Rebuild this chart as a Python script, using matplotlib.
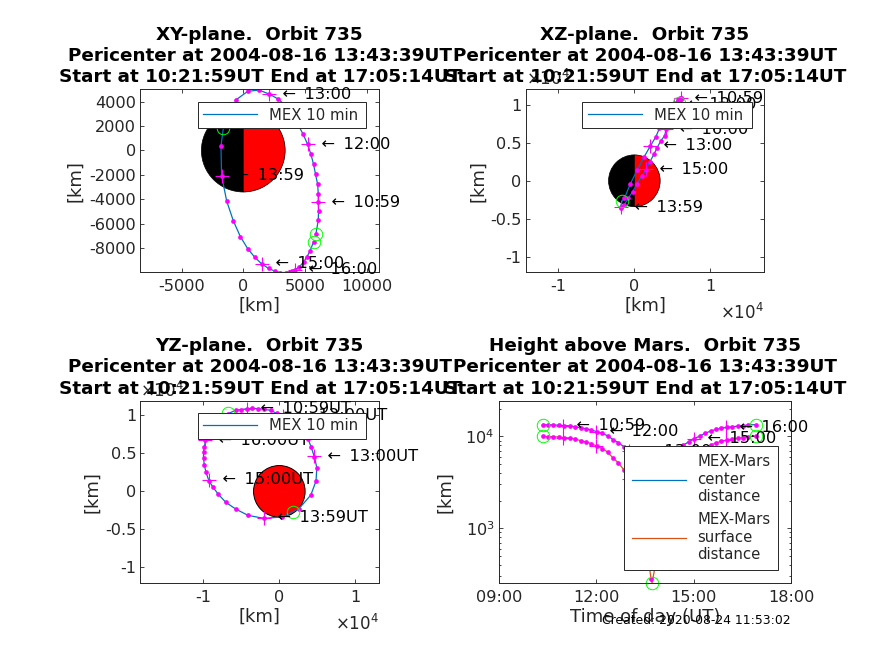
import matplotlib
matplotlib.use("Agg")
import matplotlib.pyplot as plt
import matplotlib.dates as mdates
import numpy as np
import pandas as pd
from matplotlib.patches import Circle, Wedge

plt.rcParams["axes.unicode_minus"] = False

# 10 minute positions along the orbit [km]
dot_times = ["10:21", "10:31", "10:41", "10:51", "11:01", "11:11", "11:21", "11:31", "11:41", "11:51",
             "12:01", "12:11", "12:21", "12:31", "12:41", "12:51", "13:01", "13:11", "13:21", "13:31",
             "13:41", "13:51", "14:01", "14:11", "14:21", "14:31", "14:41", "14:51", "15:01", "15:11",
             "15:21", "15:31", "15:41", "15:51", "16:01", "16:11", "16:21", "16:31", "16:41", "16:54"]
x_km = [5890, 6080, 6100, 6080, 6080, 6030, 5860, 5700, 5490, 5220,
        4860, 4500, 4100, 3700, 3300, 2840, 2100, 1270, 350, -570,
        -1300, -1810, -1760, -1350, -810, -240, 350, 945, 1490, 2050,
        2560, 3000, 3460, 3970, 4190, 4540, 4890, 5160, 5400, 5700]
y_km = [-6820, -5700, -4990, -4250, -3545, -2780, -1960, -1145, -330, 490,
        1310, 2000, 2650, 3250, 3780, 4200, 4610, 4940, 4830, 4150,
        2590, 350, -2050, -4120, -5750, -7040, -8020, -8750, -9270, -9650,
        -9870, -9980, -9980, -9850, -9740, -9530, -9110, -8700, -8240, -7470]
z_km = [10200, 10680, 10770, 10870, 10920, 10880, 10790, 10660, 10260, 9900,
        9500, 9000, 8400, 7700, 6900, 5790, 4560, 3110, 1360, -480,
        -2280, -3380, -3550, -3160, -2320, -1450, -395, 570, 1400, 2500,
        3460, 4340, 5220, 5880, 6750, 7450, 8000, 8550, 9100, 9500]
center_km = [13400, 13300, 13300, 13200, 13100, 13000, 12700, 12400, 12100, 11700,
             11250, 10750, 10150, 9200, 8530, 7720, 6850, 5950, 5000, 4200,
             3680, 3850, 4400, 5360, 6250, 7190, 8030, 8750, 9430, 10080,
             10780, 11400, 11900, 12200, 12500, 12700, 12900, 13100, 13300, 13400]

# hour marks
hour_labels = ["10:59", "12:00", "13:00", "13:59", "15:00", "16:00"]
hour_x = [6080, 5220, 2100, -1760, 1490, 4190]
hour_y = [-4250, 490, 4610, -2050, -9270, -9740]
hour_z = [10850, 9980, 4600, -3500, 1500, 6750]
hour_center = [13100, 11250, 6850, 4400, 9430, 12500]

# start, pericenter, end
ring_times = ["10:21", "13:43", "16:54"]
ring_x = [5890, -1620, 5700]
ring_y = [-6820, 1800, -7470]
ring_z = [10260, -2680, 9400]
ring_center = [13400, 3650, 13400]

mars_radius = 3396
orbit = 735
line2 = "Pericenter at 2004-08-16 13:43:39UT"
line3 = "Start at 10:21:59UT End at 17:05:14UT"
arrow = "  \u2009\u2190\u2009 "

BLUE = (0, 0.447, 0.741)
ORANGE = (0.85, 0.325, 0.098)
GREY = (0.15, 0.15, 0.15)
LABEL_SIZE = 11.7
TICK_SIZE = 11.6
AXIS_LABEL_SIZE = 13


def stamp(t):
    return pd.to_datetime(["2004-08-16 " + s for s in t])


def style_axes(ax):
    ax.tick_params(which="both", direction="in", top=True, right=True, length=2.6, width=0.6,
                   colors=GREY, labelsize=TICK_SIZE)
    ax.tick_params(axis="x", which="both", pad=5)
    ax.tick_params(axis="y", which="both", pad=3)
    ax.tick_params(which="minor", length=1.5)
    for spine in ax.spines.values():
        spine.set_linewidth(0.7)
        spine.set_color(GREY)


def add_title(ax, name):
    ax.set_title(f"{name}  Orbit {orbit}\n{line2}\n{line3}", fontsize=13.2, fontweight="bold",
                 pad=5, linespacing=1.24)


def add_legend(ax, box, borderpad=0.38, **kw):
    leg = ax.legend(loc="lower left", bbox_to_anchor=box, mode="expand", borderaxespad=0,
                    fancybox=False, framealpha=1, edgecolor=GREY, fontsize=10.7, handlelength=3.6,
                    borderpad=borderpad, **kw)
    leg.get_frame().set_linewidth(0.7)
    for text in leg.get_texts():
        text.set_color(GREY)
        text.set_linespacing(1.2)
    leg.set_zorder(6)
    return leg


def plot_plane(ax, xs, ys, hx, hy, rx, ry, suffix, half_mars):
    if half_mars:
        ax.add_patch(Wedge((0, 0), mars_radius, 90, 270, fc="black", ec="black", lw=0.5, zorder=1))
        ax.add_patch(Wedge((0, 0), mars_radius, -90, 90, fc="red", ec="black", lw=0.5, zorder=1))
    else:
        ax.add_patch(Circle((0, 0), mars_radius, fc="red", ec="black", lw=0.7, zorder=1))
    # line runs through the pericenter as well
    lx = np.insert(np.array(xs, dtype=float), 21, rx[1])
    ly = np.insert(np.array(ys, dtype=float), 21, ry[1])
    ax.plot(lx, ly, color=BLUE, lw=0.9, label="MEX 10 min", zorder=2)
    ax.plot(xs, ys, ls="none", marker="o", ms=3.4, mfc=(1, 0, 1), mew=0, zorder=2.2)
    ax.plot(hx, hy, ls="none", marker="+", ms=9.6, mew=0.8, color=(1, 0, 1), zorder=2.3)
    ax.plot(rx, ry, ls="none", marker="o", ms=9, mfc="none", mec=(0, 1, 0), mew=0.7, zorder=2.4)
    for hour, px, py in zip(hour_labels, hx, hy):
        ax.text(px, py, arrow + hour + suffix, fontsize=LABEL_SIZE, va="center", clip_on=False, zorder=3)


def km_ticks(ax, xlim, ylim, xticks, yticks, scaled, ypad):
    ax.set_xlim(xlim)
    ax.set_ylim(ylim)
    ax.set_xticks(xticks)
    ax.set_yticks(yticks)
    if scaled:
        ax.set_xticklabels([f"{v / 1e4:g}" for v in xticks])
        ax.set_yticklabels([f"{v / 1e4:g}" for v in yticks])
        ax.text(0.0, 1.0, r"$\times 10^4$", transform=ax.transAxes, fontsize=12, color=GREY, va="bottom")
        ax.text(1.0, -0.165, r"$\times 10^4$", transform=ax.transAxes, fontsize=12, color=GREY, va="top", ha="right")
    ax.set_xlabel("[km]", fontsize=AXIS_LABEL_SIZE, color=GREY, labelpad=2)
    ax.set_ylabel("[km]", fontsize=AXIS_LABEL_SIZE, color=GREY, labelpad=ypad)


W, H = 874, 655
fig = plt.figure(figsize=(W / 100, H / 100), dpi=100)


def make_axes(left, right, top, bottom):
    return fig.add_axes([left / W, 1 - bottom / H, (right - left) / W, (bottom - top) / H])


ax1 = make_axes(140.3, 379.3, 89.3, 272.3)
ax2 = make_axes(525.7, 764.3, 89.3, 272.3)
ax3 = make_axes(140.3, 379.3, 400.7, 583.3)
ax4 = make_axes(498.7, 791.3, 400.7, 583.3)

plot_plane(ax1, x_km, y_km, hour_x, hour_y, ring_x, ring_y, "", True)
km_ticks(ax1, (-8350, 11027), (-9963, 5000), [-5000, 0, 5000, 10000],
         [-8000, -6000, -4000, -2000, 0, 2000, 4000], False, 3.6)
add_title(ax1, "XY-plane.")
add_legend(ax1, (0.24, 0.787, 0.704, 0.14))

plot_plane(ax2, x_km, z_km, hour_x, hour_z, ring_x, ring_z, "", True)
km_ticks(ax2, (-14300, 17100), (-12000, 12000), [-10000, 0, 10000],
         [-10000, -5000, 0, 5000, 10000], True, 2)
add_title(ax2, "XZ-plane.")
add_legend(ax2, (0.238, 0.787, 0.709, 0.14))

plot_plane(ax3, y_km, z_km, hour_y, hour_z, ring_y, ring_z, "UT", False)
km_ticks(ax3, (-18300, 13160), (-12100, 11930), [-10000, 0, 10000],
         [-10000, -5000, 0, 5000, 10000], True, 2.5)
add_title(ax3, "YZ-plane.")
add_legend(ax3, (0.24, 0.79, 0.704, 0.14))

# height panel
dot_t = stamp(dot_times)
hour_t = stamp(hour_labels)
ring_t = stamp(ring_times)
center = np.array(center_km, dtype=float)
line_t = dot_t.insert(21, ring_t[1])
line_c = np.insert(center, 21, ring_center[1])
hour_c = np.array(hour_center, dtype=float)
ring_c = np.array(ring_center, dtype=float)

ax4.semilogy(line_t, line_c, color=BLUE, lw=0.9, label="MEX-Mars\ncenter\ndistance", zorder=2)
ax4.semilogy(line_t, line_c - mars_radius, color=ORANGE, lw=0.9, label="MEX-Mars\nsurface\ndistance", zorder=2)
for series in (center, center - mars_radius):
    ax4.plot(dot_t, series, ls="none", marker="o", ms=3.4, mfc=(1, 0, 1), mew=0, zorder=2.2)
for series in (hour_c, hour_c - mars_radius):
    ax4.plot(hour_t, series, ls="none", marker="+", ms=9.6, mew=0.8, color=(1, 0, 1), zorder=2.3)
for series in (ring_c, ring_c - mars_radius):
    ax4.plot(ring_t, series, ls="none", marker="o", ms=9, mfc="none", mec=(0, 1, 0), mew=0.7,
             zorder=2.4, clip_on=False)
for hour, tt, val in zip(hour_labels, hour_t, hour_c):
    ax4.text(tt, val, arrow + hour, fontsize=LABEL_SIZE, va="center", clip_on=False, zorder=3)

ax4.set_xlim(stamp(["09:00", "18:00"]))
ax4.set_ylim(252, 24400)
ax4.set_xticks(stamp(["09:00", "12:00", "15:00", "18:00"]))
ax4.xaxis.set_major_formatter(mdates.DateFormatter("%H:%M"))
ax4.set_xlabel("Time of day (UT)", fontsize=AXIS_LABEL_SIZE, color=GREY, labelpad=2)
ax4.set_ylabel("[km]", fontsize=AXIS_LABEL_SIZE, color=GREY, labelpad=8)
add_title(ax4, "Height above Mars.")
add_legend(ax4, (0.429, 0.073, 0.527, 0.675), borderpad=0.53, labelspacing=0.55)

for ax in (ax1, ax2, ax3, ax4):
    style_axes(ax)

fig.text(791 / W, 1 - 620 / H, "Created: 2020-08-24 11:53:02", fontsize=8.9, ha="right", va="center",
         color="black")

fig.savefig("out.png", dpi=100)
